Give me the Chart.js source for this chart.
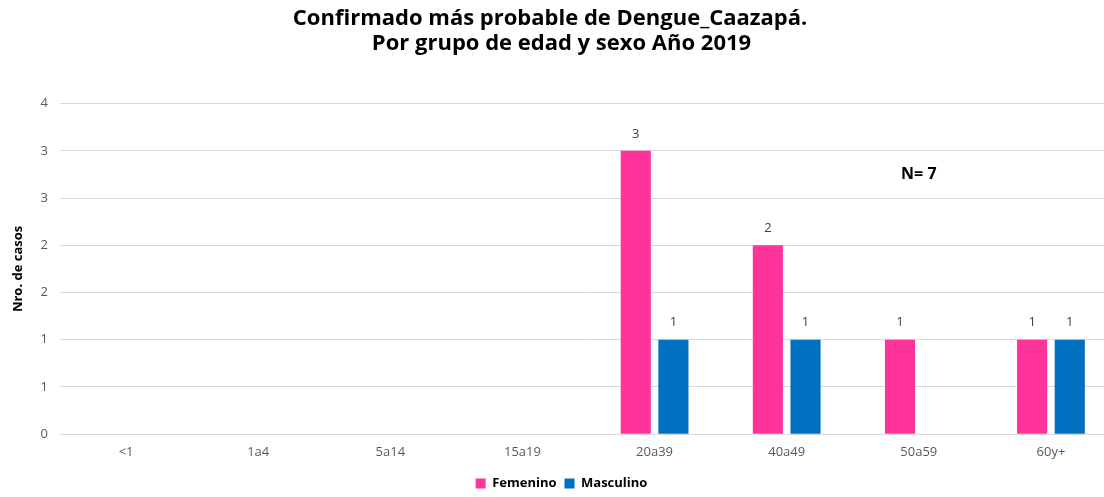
<!DOCTYPE html>
<html>
<head>
<meta charset="utf-8">
<script src="https://cdn.jsdelivr.net/npm/chart.js@4.4.0/dist/chart.umd.min.js"></script>
<style>
  html, body { margin: 0; padding: 0; background: #fff; overflow: hidden; }
  #wrap { width: 1117px; height: 500px; position: relative; }
</style>
</head>
<body>
<div id="wrap"><canvas id="chart"></canvas></div>
<script>
// grupos de edad
const categories = ["<1", "1a4", "5a14", "15a19", "20a39", "40a49", "50a59", "60y+"];
const femenino  = [0, 0, 0, 0, 3, 2, 1, 1];
const masculino = [0, 0, 0, 0, 1, 1, 0, 1];
const titleLines = ["Confirmado más probable de Dengue_Caazapá.    ", "Por grupo de edad y sexo Año 2019"];
const nLabel = "N= 7";

const FONT = "'Open Sans', 'Noto Sans', sans-serif";

// etiquetas arriba de cada barra
const barLabels = {
  id: "barLabels",
  afterDatasetsDraw(chart) {
    const ctx = chart.ctx;
    ctx.save();
    ctx.font = "13px " + FONT;
    ctx.fillStyle = "#404040";
    ctx.textAlign = "center";
    ctx.textBaseline = "middle";
    chart.data.datasets.forEach((ds, i) => {
      chart.getDatasetMeta(i).data.forEach((bar, j) => {
        if (!ds.data[j]) return;
        ctx.fillText(ds.data[j], bar.x, bar.y - 17);
      });
    });
    ctx.restore();
  }
};

// texto N=7
const nNote = {
  id: "nNote",
  afterDraw(chart) {
    const ctx = chart.ctx;
    const x = chart.scales.x.getPixelForValue(6);
    const y = chart.scales.y.getPixelForValue(2.75);
    ctx.save();
    ctx.font = "bold 16px " + FONT;
    ctx.fillStyle = "#000";
    ctx.textAlign = "center";
    ctx.textBaseline = "middle";
    ctx.fillText(nLabel, x, y);
    ctx.restore();
  }
};

new Chart(document.getElementById("chart"), {
  type: "bar",
  data: {
    labels: categories,
    datasets: [
      { label: "Femenino", data: femenino, backgroundColor: "#FF3399", borderWidth: 0 },
      { label: "Masculino", data: masculino, backgroundColor: "#0070C0", borderWidth: 0 }
    ]
  },
  options: {
    responsive: true,
    maintainAspectRatio: false,
    animation: false,
    datasets: { bar: { categoryPercentage: 0.57, barPercentage: 0.8 } },
    layout: { padding: { left: 6, right: 0, top: 6, bottom: 0 } },
    plugins: {
      title: {
        display: true,
        text: titleLines,
        color: "#000",
        font: { family: FONT, size: 22, weight: "bold", lineHeight: 1.15 },
        padding: { top: 0, bottom: 47 }
      },
      legend: {
        position: "bottom",
        labels: {
          color: "#000",
          boxWidth: 10,
          boxHeight: 10,
          padding: 8,
          font: { family: FONT, size: 13, weight: "bold" }
        }
      },
      tooltip: { enabled: false }
    },
    scales: {
      x: {
        grid: { display: false },
        border: { color: "#d9d9d9" },
        ticks: { color: "#595959", font: { family: FONT, size: 13 }, padding: 2 },
        // espacio entre etiquetas y leyenda
        title: { display: true, text: " ", font: { size: 6 }, padding: 0 }
      },
      y: {
        min: 0,
        max: 3.5,
        ticks: {
          stepSize: 0.5,
          color: "#595959",
          font: { family: FONT, size: 13 },
          padding: 12,
          callback: v => Math.round(v)
        },
        grid: { color: "#d9d9d9", drawTicks: false },
        border: { display: false },
        title: {
          display: true,
          text: "Nro. de casos",
          color: "#000",
          font: { family: FONT, size: 13, weight: "bold" },
          padding: { bottom: 3 }
        }
      }
    }
  },
  plugins: [barLabels, nNote]
});
</script>
</body>
</html>
